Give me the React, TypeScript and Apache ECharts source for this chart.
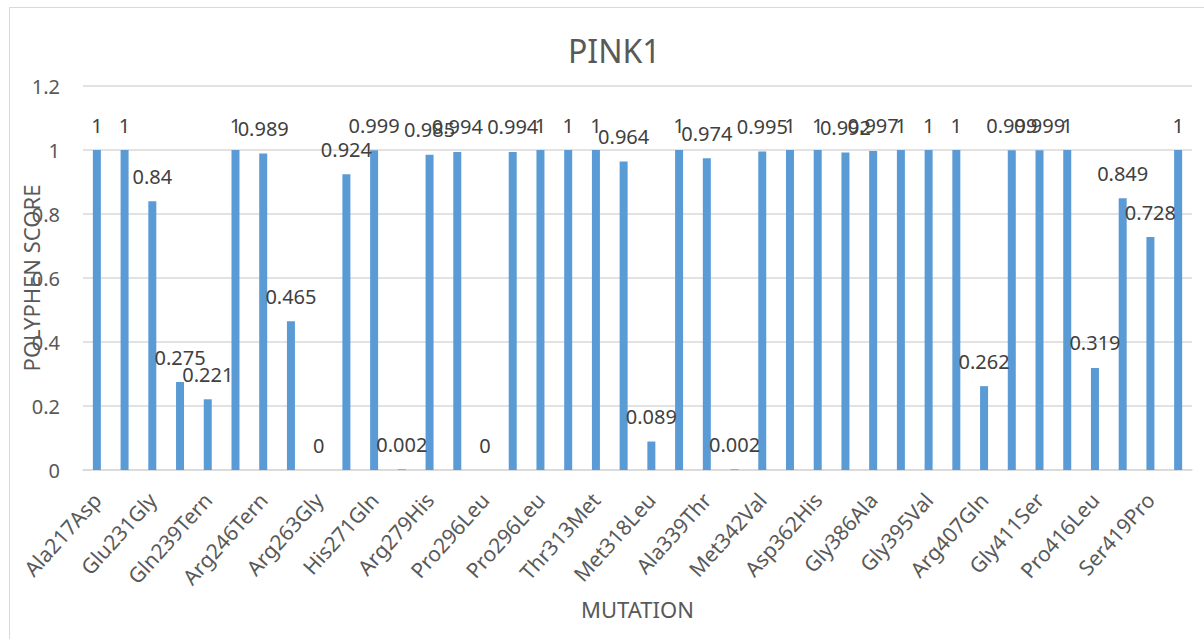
import React, { useEffect, useRef } from "react";
import * as echarts from "echarts";

const titleText = "PINK1";
const xAxisName = "MUTATION";
const yAxisName = "POLYPHEN SCORE";

// 40 mutations; only every other name is shown on the axis in the reference
const categories = [
  "Ala217Asp", "", "Glu231Gly", "", "Gln239Tern", "", "Arg246Tern", "", "Arg263Gly", "",
  "His271Gln", "", "Arg279His", "", "Pro296Leu", "", "Pro296Leu", "", "Thr313Met", "",
  "Met318Leu", "", "Ala339Thr", "", "Met342Val", "", "Asp362His", "", "Gly386Ala", "",
  "Gly395Val", "", "Arg407Gln", "", "Gly411Ser", "", "Pro416Leu", "", "Ser419Pro", "",
];

const scores = [
  1, 1, 0.84, 0.275, 0.221, 1, 0.989, 0.465, 0, 0.924,
  0.999, 0.002, 0.985, 0.994, 0, 0.994, 1, 1, 1, 0.964,
  0.089, 1, 0.974, 0.002, 0.995, 1, 1, 0.992, 0.997, 1,
  1, 1, 0.262, 0.999, 0.999, 1, 0.319, 0.849, 0.728, 1,
];

const yMin = 0;
const yMax = 1.2;
const yStep = 0.2;

const FONT = "'Noto Sans', 'Open Sans', sans-serif";

export default function App() {
  const ref = useRef<HTMLDivElement>(null);

  useEffect(() => {
    if (!ref.current) return;
    const chart = echarts.init(ref.current, undefined, { renderer: "svg" });
    chart.setOption({
      animation: false,
      backgroundColor: "#ffffff",
      textStyle: { fontFamily: FONT },
      title: {
        text: titleText,
        left: 568,
        top: 30,
        padding: 0,
        textStyle: {
          fontFamily: FONT,
          fontSize: 32,
          fontWeight: "normal",
          color: "#595959",
          lineHeight: 40,
        },
      },
      graphic: [
        {
          type: "rect",
          shape: { x: 9.5, y: 7.5, width: 1400, height: 800 },
          style: { fill: "none", stroke: "#D9D9D9", lineWidth: 1 },
          silent: true,
        },
      ],
      grid: {
        left: 83,
        right: 12,
        top: 86,
        bottom: 169,
        containLabel: false,
        outerBoundsMode: "none",
      },
      xAxis: {
        type: "category",
        data: categories,
        name: xAxisName,
        nameLocation: "middle",
        nameGap: 128,
        nameMoveOverlap: false,
        nameTextStyle: { fontFamily: FONT, fontSize: 22, color: "#595959" },
        axisLine: { show: true, lineStyle: { color: "#D9D9D9", width: 1.5 } },
        axisTick: { show: false },
        axisLabel: {
          interval: 1,
          rotate: 48,
          margin: 26,
          fontFamily: FONT,
          fontSize: 21,
          color: "#595959",
          hideOverlap: false,
        },
      },
      yAxis: {
        type: "value",
        min: yMin,
        max: yMax,
        interval: yStep,
        name: yAxisName,
        nameLocation: "middle",
        nameGap: 41,
        nameMoveOverlap: false,
        nameTextStyle: { fontFamily: FONT, fontSize: 22, color: "#595959" },
        axisLine: { show: false },
        axisTick: { show: false },
        axisLabel: {
          margin: 23,
          fontFamily: FONT,
          fontSize: 20,
          color: "#595959",
          formatter: (v: number) => String(Math.round(v * 10) / 10),
        },
        splitLine: { show: true, lineStyle: { color: "#D9D9D9", width: 1.5 } },
      },
      series: [
        {
          type: "bar",
          data: scores,
          barWidth: 8,
          itemStyle: { color: "#5B9BD5" },
          label: {
            show: true,
            position: "top",
            distance: 15,
            fontFamily: FONT,
            fontSize: 20,
            color: "#404040",
          },
        },
      ],
    });
    return () => chart.dispose();
  }, []);

  return (
    <div
      ref={ref}
      style={{ position: "absolute", left: 0, top: 0, width: 1204, height: 639 }}
    />
  );
}
